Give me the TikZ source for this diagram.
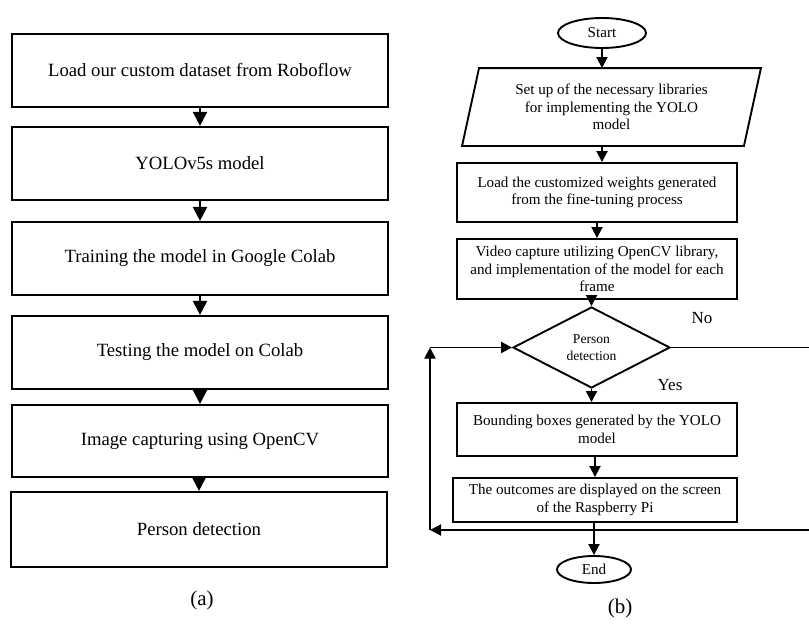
\documentclass[tikz,border=0pt]{standalone}
\usepackage{fontspec}
\setmainfont{Liberation Serif}
\usetikzlibrary{arrows.meta,shapes.geometric}
\begin{document}
\begin{tikzpicture}[x=1pt,y=-1pt,
 abox/.style={draw,line width=2.2pt,minimum width=376pt,minimum height=73pt,inner sep=0pt,font=\fontsize{18.7}{22}\selectfont},
 bbox/.style={draw,line width=1.9pt,inner sep=0pt,align=center,font=\fontsize{15.1}{17.6}\selectfont},
 aarr/.style={line width=2.2pt,-{Triangle[length=14pt,width=14pt]}},
 barr/.style={line width=1.9pt,-{Triangle[length=11pt,width=11pt]}},
 term/.style={draw,ellipse,line width=1.9pt,inner sep=0pt,font=\fontsize{15.1}{17.6}\selectfont},
 lbl/.style={font=\fontsize{17}{20}\selectfont},
 caption/.style={font=\fontsize{21}{24}\selectfont}]
\useasboundingbox (0,0) rectangle (809,624);
% ---------- (a)
\node[abox] (a1) at (200,70.5) {Load our custom dataset from Roboflow};
\node[abox] (a2) at (200,163.5) {YOLOv5s model};
\node[abox] (a3) at (200,258.5) {Training the model in Google Colab};
\node[abox] (a4) at (200,352.5) {Testing the model on Colab};
\node[abox,minimum height=72pt] (a5) at (200,441) {Image capturing using OpenCV};
\node[abox,minimum height=75pt] (a6) at (199,529.5) {Person detection};
\draw[aarr] (a1) -- (a2);
\draw[aarr] (a2) -- (a3);
\draw[aarr] (a3) -- (a4);
\draw[aarr] (a4) -- (a5);
\draw[aarr] (a5.south -| a6.north) -- (a6.north);
\node[caption] (capa) at (202,600) {(a)};
% ---------- (b)
\node[term,minimum width=88pt,minimum height=30pt] (start) at (602,33) {Start};
\node[bbox,draw=none,minimum width=280pt,minimum height=76pt] (para) at (611.5,107)
  {Set up of the necessary libraries\\ for implementing the YOLO\\ model};
\draw[line width=1.9pt] ([xshift=8.5pt]para.north west) -- ([xshift=8.5pt]para.north east)
  -- ([xshift=-8.5pt]para.south east) -- ([xshift=-8.5pt]para.south west) -- cycle;
\node[bbox,minimum width=280pt,minimum height=59pt] (load) at (597,192.5)
  {Load the customized weights generated\\ from the fine-tuning process};
\node[bbox,minimum width=280pt,minimum height=60pt] (video) at (597,269)
  {Video capture utilizing OpenCV library,\\ and implementation of the model for each\\ frame};
\node[draw,diamond,line width=1.9pt,minimum width=157pt,minimum height=81pt,inner sep=0pt,
  align=center,font=\fontsize{13.6}{17}\selectfont] (d) at (591.5,347.5) {Person\\ detection};
\node[bbox,minimum width=280pt,minimum height=53pt] (bb) at (597,429.5)
  {Bounding boxes generated by the YOLO\\ model};
\node[bbox,minimum width=284pt,minimum height=44pt] (out) at (595,500)
  {The outcomes are displayed on the screen\\ of the Raspberry Pi};
\node[term,minimum width=74pt,minimum height=27pt] (endn) at (594,569.5) {End};
\draw[barr] (start.south) -- (start.south |- para.north);
\draw[barr] (start.south |- para.south) -- (start.south |- load.north);
\draw[barr] (load) -- (video);
\draw[barr] (video.south -| d.north) -- (d.north);
\draw[barr] (d.south) -- (d.south |- bb.north);
\draw[barr] (bb.south -| out.north) -- (out.north);
\draw[barr] (out.south -| endn.north) -- (endn.north);
% loop
\coordinate (rA) at (814,347.5);
\coordinate (rB) at (814,530);
\coordinate (lB) at (430,530);
\coordinate (lT) at (430,347.5);
\draw[line width=1.9pt] (d.east) -- (rA) -- (rB);
\draw[barr] (rB) -- (lB);
\draw[barr] (lB) -- (lT);
\draw[barr] (lT) -- (d.west);
\node[lbl] (no) at (702,318) {No};
\node[lbl] (yes) at (670,385) {Yes};
\node[caption] (capb) at (620,608) {(b)};
\end{tikzpicture}
\end{document}
